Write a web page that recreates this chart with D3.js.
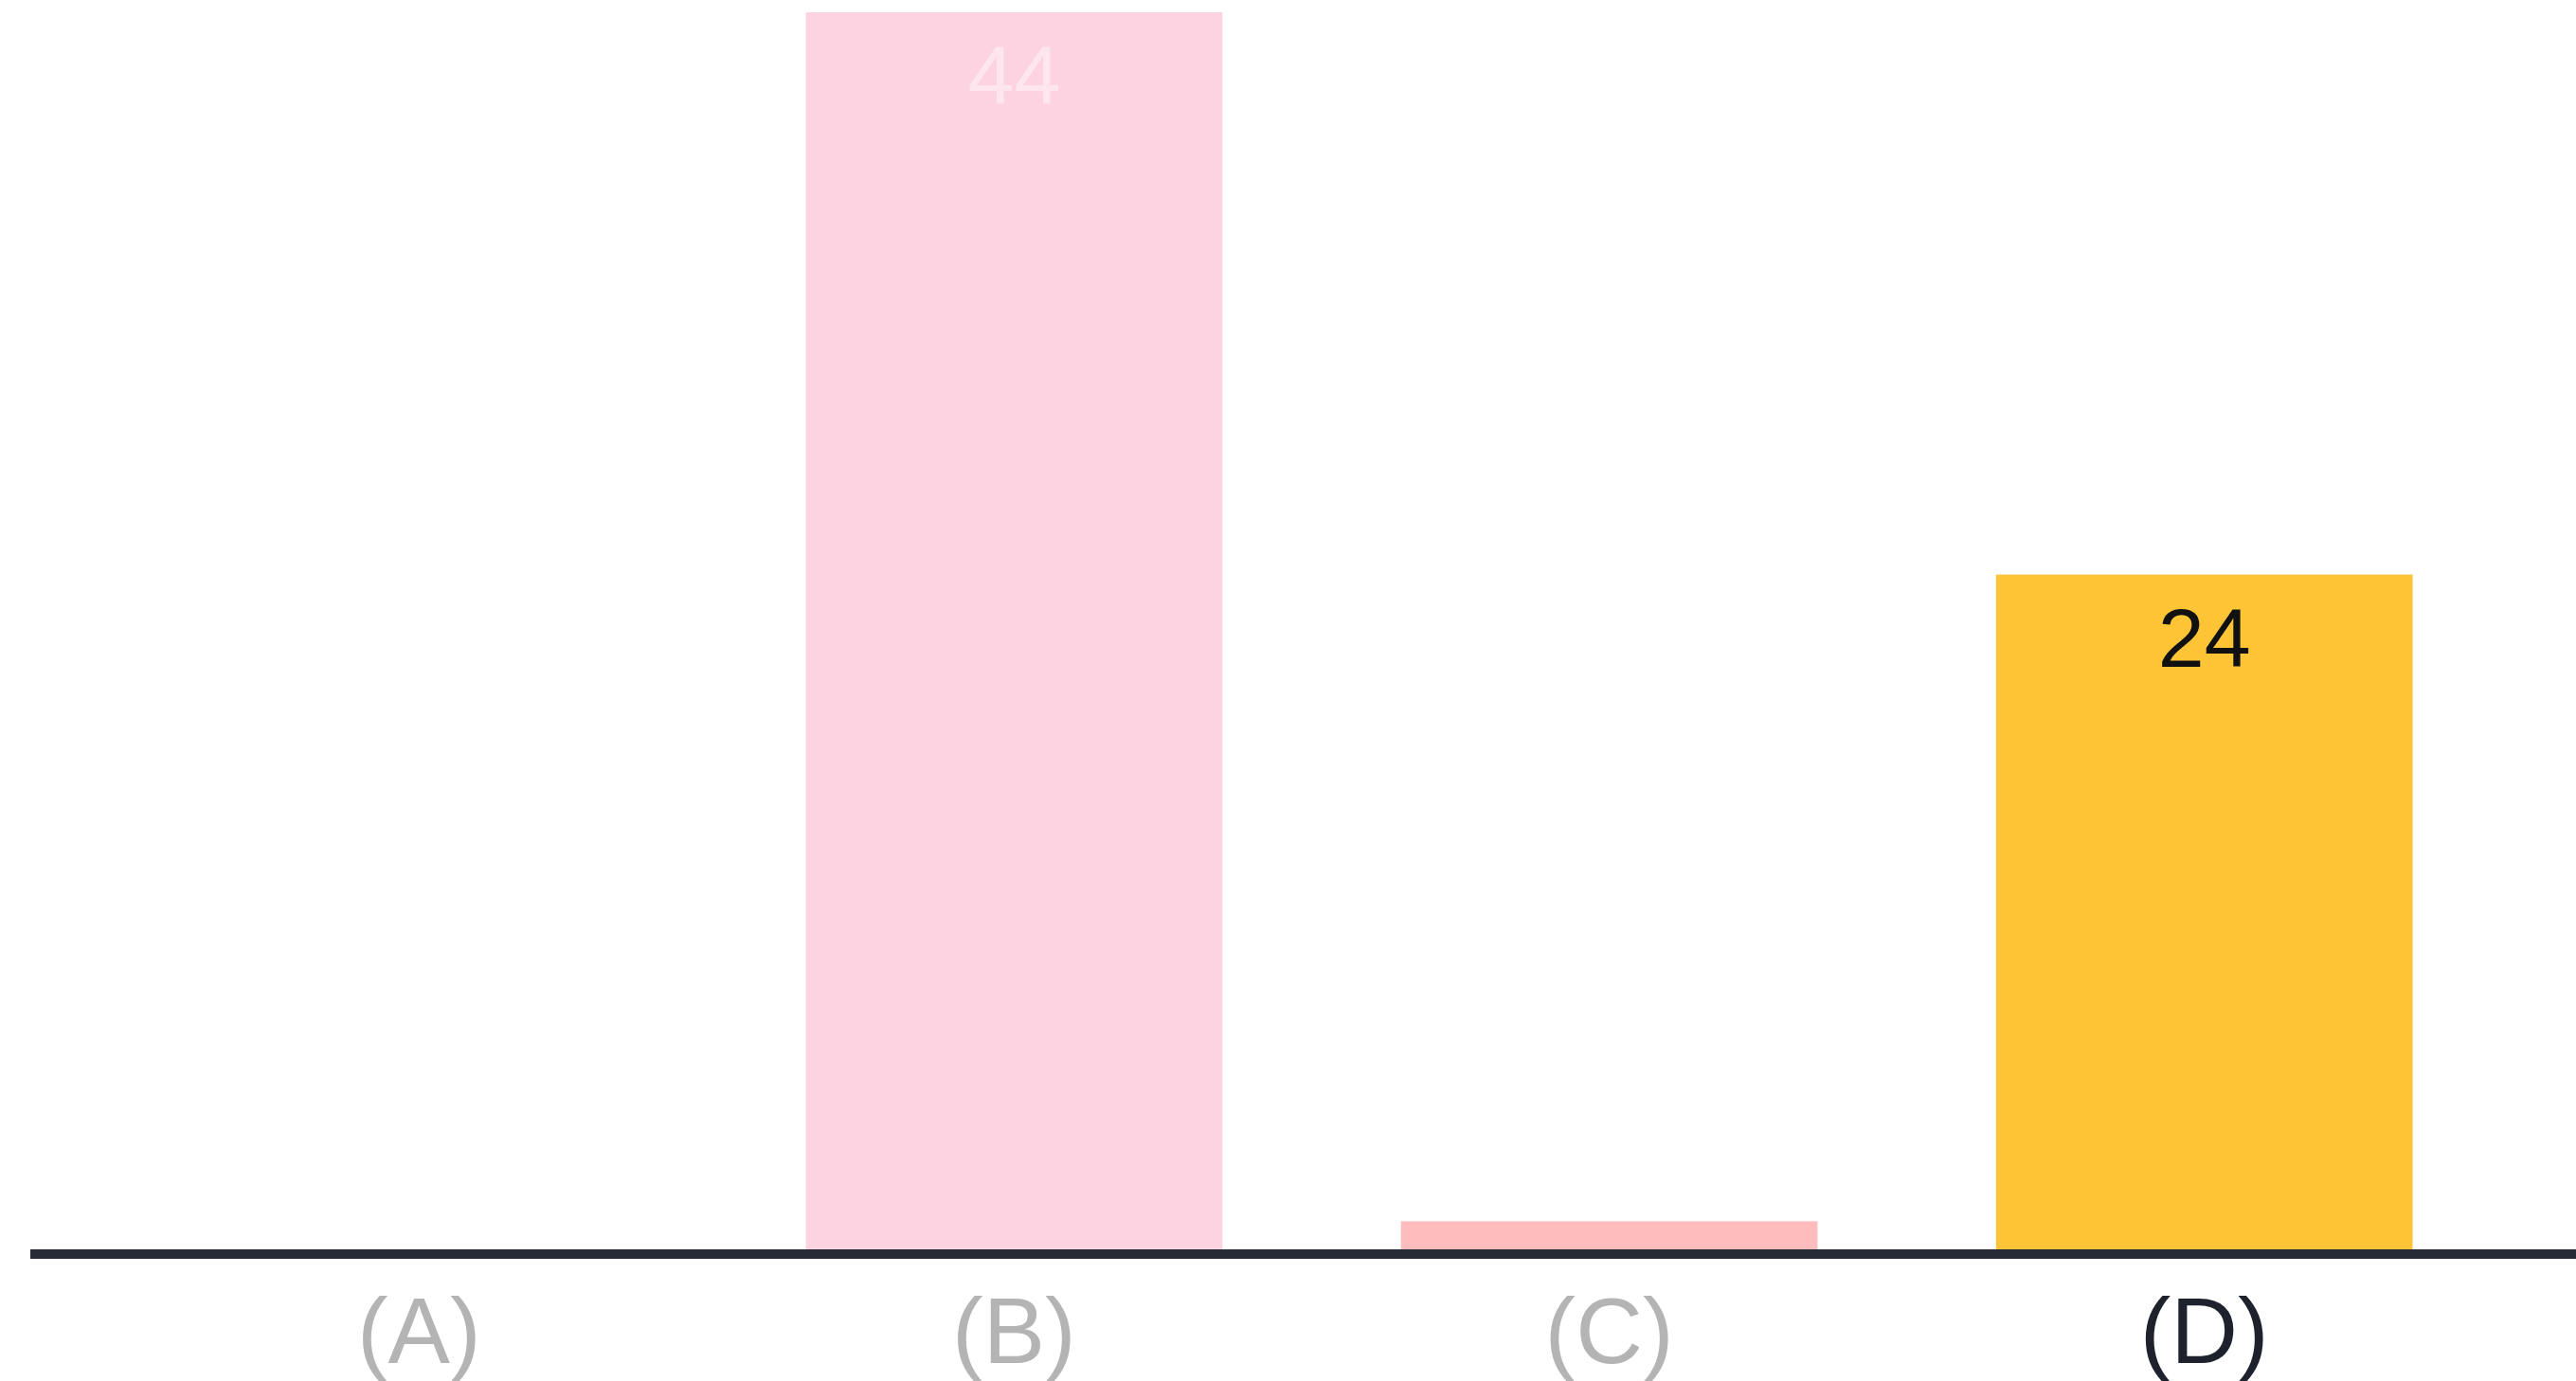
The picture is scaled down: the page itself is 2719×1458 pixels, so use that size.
<!DOCTYPE html>
<html>
<head>
<meta charset="utf-8">
<script src="https://cdn.jsdelivr.net/npm/d3@7"></script>
<style>
  html, body { margin: 0; padding: 0; background: #ffffff; overflow: hidden; }
  svg { display: block; }
</style>
</head>
<body>
<svg id="chart"></svg>
<script>
// Answer options and how many responses each received
const categories = ["(A)", "(B)", "(C)", "(D)"];
const values = [0, 44, 1, 24];
// Values printed on top of the bars (null = no label)
const valueLabels = ["", "44", "", "24"];
const barColors = ["#fdd2e1", "#fdd2e1", "#ffbcbc", "#fdc536"];
// The highlighted option is drawn at full strength, the others are muted
const highlighted = "(D)";

const W = 2719, H = 1458;
const svg = d3.select("#chart").attr("width", W).attr("height", H);

const x = d3.scaleBand()
  .domain(categories)
  .range([34, 2735])
  .paddingInner(0.3)
  .paddingOuter(0.3);

const y = d3.scaleLinear()
  .domain([0, 44])
  .range([1319, 13]);

const font = "'Liberation Sans', Arial, Helvetica, sans-serif";

// Bars
svg.append("g")
  .selectAll("rect")
  .data(categories)
  .join("rect")
  .attr("x", d => x(d))
  .attr("width", x.bandwidth())
  .attr("y", (d, i) => y(values[i]))
  .attr("height", (d, i) => y(0) - y(values[i]))
  .attr("fill", (d, i) => barColors[i]);

// Value labels inside the top of each bar
svg.append("g")
  .selectAll("text")
  .data(categories)
  .join("text")
  .filter((d, i) => valueLabels[i] !== "")
  .attr("x", d => x(d) + x.bandwidth() / 2)
  .attr("y", d => y(values[categories.indexOf(d)]) + 97)
  .attr("text-anchor", "middle")
  .attr("font-family", font)
  .attr("font-size", 88)
  .attr("fill", d => d === highlighted ? "#111111" : "#ffffff")
  .attr("fill-opacity", d => d === highlighted ? 1 : 0.45)
  .text(d => valueLabels[categories.indexOf(d)]);

// Category axis along the baseline
const axis = svg.append("g")
  .attr("transform", `translate(0, ${y(0) + 5})`)
  .call(d3.axisBottom(x).tickSize(0).tickPadding(0));

axis.select(".domain")
  .attr("d", `M32,0H${W + 20}`)
  .attr("stroke", "#262a35")
  .attr("stroke-width", 10);

axis.selectAll(".tick text")
  .attr("y", 115)
  .attr("dy", null)
  .attr("font-family", font)
  .attr("font-size", 98)
  .attr("fill", d => d === highlighted ? "#1e222d" : "#b4b4b4");
</script>
</body>
</html>
